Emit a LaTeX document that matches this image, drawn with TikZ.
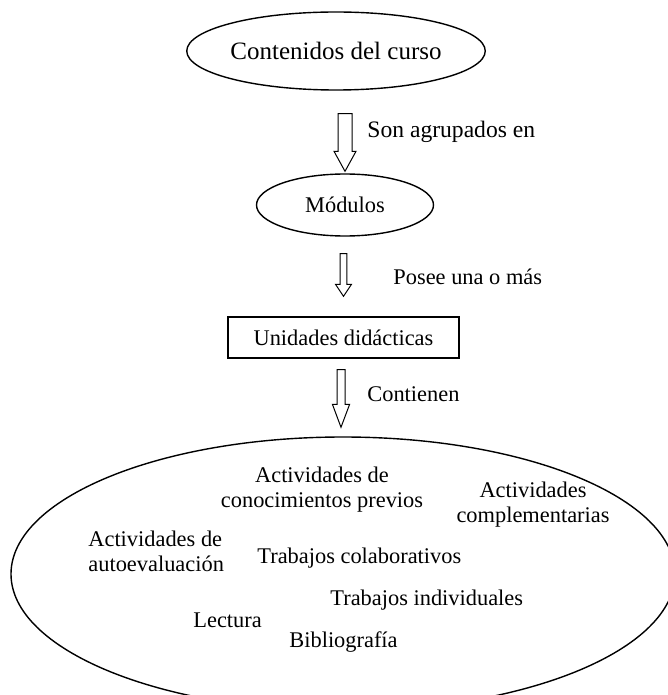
\documentclass[tikz,border=0pt]{standalone}
\usepackage{fontspec}
\setmainfont{Liberation Serif}
\usetikzlibrary{shapes.geometric,calc}

\tikzset{
    oval/.style={draw, ellipse, line width=0.7pt, inner sep=0pt},
    blockarrow/.style n args={3}{draw, line width=0.5pt, to path={let \p1=(\tikztostart), \p2=(\tikztotarget) in
        (\x2-#1,\y1) -- (\x2-#1,\y2+#3) -- (\x2-#2,\y2+#3) -- (\x2,\y2) -- (\x2+#2,\y2+#3) -- (\x2+#1,\y2+#3) -- (\x2+#1,\y1) -- cycle}}
}

\begin{document}
\begin{tikzpicture}[x=0.5pt,y=-0.5pt,every node/.style={font=\fontsize{11.2}{12.5}\selectfont, inner sep=0pt}]
    \useasboundingbox (0,0) rectangle (668,695);
    % levels
    \node[oval, minimum width=134pt, minimum height=39pt, font=\fontsize{12.5}{14}\selectfont] (curso) at (336,51) {Contenidos del curso};
    \node[oval, minimum width=88.5pt, minimum height=31pt] (mod) at (345,205) {Módulos};
    \node[draw, line width=0.7pt, minimum width=115.5pt, minimum height=20.5pt] (unid) at (343.5,337.5) {Unidades didácticas};
    \node[oval, minimum width=332pt, minimum height=137pt] (act) at (343,574) {};
    % arrows
    \draw[blockarrow={3.5pt}{5.5pt}{10pt}] ([yshift=-11.5pt]curso.south) to ([yshift=1pt]mod.north);
    \draw[blockarrow={1.7pt}{4pt}{6pt}] ([yshift=-8.5pt]mod.south) to ([yshift=10pt]unid.north);
    \draw[blockarrow={2pt}{4.3pt}{11.5pt}] ([yshift=-5.5pt]unid.south) to ([yshift=4.5pt,xshift=-1pt]act.north);
    \node[anchor=west, font=\fontsize{11.8}{13}\selectfont] (l1) at (367,132) {Son agrupados en};
    \node[anchor=west] (l2) at (393,277) {Posee una o más};
    \node[anchor=west] (l3) at (367,394) {Contienen};
    % contents
    \node[align=center] (cprev) at (322,490) {Actividades de\\conocimientos previos};
    \node[align=center] (compl) at (533,505) {Actividades\\complementarias};
    \node[align=left, anchor=west] (autoev) at (88,551) {Actividades de\\autoevaluación};
    \node[anchor=west] (colab) at (257,558) {Trabajos colaborativos};
    \node[anchor=west] (indiv) at (330,600) {Trabajos individuales};
    \node[anchor=west] (lect) at (193,620) {Lectura};
    \node[anchor=west] (biblio) at (289,642) {Bibliografía};
\end{tikzpicture}
\end{document}
